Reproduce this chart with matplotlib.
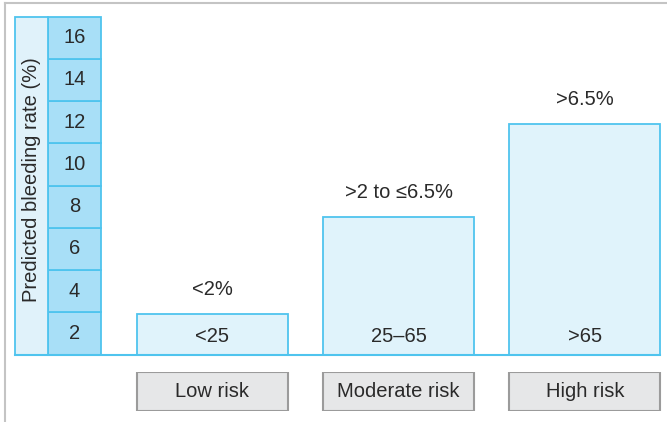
import matplotlib
matplotlib.use("Agg")
import matplotlib.pyplot as plt
from matplotlib.lines import Line2D
from matplotlib.patches import Rectangle

plt.rcParams['font.family'] = ['Liberation Sans', 'DejaVu Sans']

# ---- data ----
categories = ["Low risk", "Moderate risk", "High risk"]
bleeding_rate = [1.9, 6.5, 10.9]          # predicted bleeding rate (%) bar heights
rate_labels = ["<2%", ">2 to \u22646.5%", ">6.5%"]
score_labels = ["<25", "25\u201365", ">65"]
tick_values = [2, 4, 6, 8, 10, 12, 14, 16]
y_label = "Predicted bleeding rate (%)"

# ---- style ----
W, H = 667, 422
CYAN = "#4fc4ee"
BAR_FILL = "#e0f3fb"
CELL_FILL = "#a8dff7"
GRAY_FILL = "#e6e7e8"
GRAY_EDGE = "#9b9b9b"
TXT = "#2a2a2a"
FS = 14.5

fig = plt.figure(figsize=(W / 100, H / 100), dpi=100)

def fx(px):
    return px / W

def fy(py):
    return 1 - py / H

top_px, base_px = 16.5, 354.5
x_left_px, x_right_px = 101, 667
unit_px = 186.3
first_center_px = 212.3
xl = -(first_center_px - x_left_px) / unit_px
xr = xl + (x_right_px - x_left_px) / unit_px
bar_w = 151 / unit_px
xs = list(range(len(categories)))

# main bar axes
ax = fig.add_axes([fx(x_left_px), fy(base_px), fx(x_right_px - x_left_px),
                   (base_px - top_px) / H])
ax.set_xlim(xl, xr)
ax.set_ylim(0, 16)
ax.axis("off")
ax.bar(xs, bleeding_rate, width=bar_w, color=BAR_FILL, edgecolor=CYAN,
       linewidth=1.3, zorder=2)
for x, v, lab, sc in zip(xs, bleeding_rate, rate_labels, score_labels):
    ax.annotate(lab, xy=(x, v), xytext=(0, 18), textcoords="offset points",
                ha="center", va="center", fontsize=FS, color=TXT)
    ax.annotate(sc, xy=(x, 0), xytext=(0, 13.3), textcoords="offset points",
                ha="center", va="center", fontsize=FS, color=TXT)

# tick cell column
axc = fig.add_axes([fx(48), fy(base_px), fx(101 - 48), (base_px - top_px) / H])
axc.set_xlim(0, 1)
axc.set_ylim(0, 16)
axc.axis("off")
bottoms = [t - 2 for t in tick_values]
axc.bar([0.5] * len(tick_values), [2] * len(tick_values), width=1, bottom=bottoms,
        color=CELL_FILL, edgecolor=CYAN, linewidth=1.3, clip_on=False)
for t in tick_values:
    axc.text(0.5, t - 1, str(t), ha="center", va="center", fontsize=FS, color=TXT)

# y-label column
axl = fig.add_axes([fx(15), fy(base_px), fx(48 - 15), (base_px - top_px) / H])
axl.set_xlim(0, 1)
axl.set_ylim(0, 16)
axl.axis("off")
axl.add_patch(Rectangle((0, 0), 1, 16, facecolor="#e0f2fa", edgecolor=CYAN,
                        linewidth=1.3, clip_on=False))
axl.text(0.5, 8.3, y_label, rotation=90, ha="center", va="center",
         fontsize=FS, color=TXT)

# category boxes below
axb = fig.add_axes([fx(x_left_px), fy(411), fx(x_right_px - x_left_px), 39 / H])
axb.set_xlim(xl, xr)
axb.set_ylim(0, 1)
axb.axis("off")
axb.bar(xs, [1] * len(xs), width=bar_w, color=GRAY_FILL, edgecolor=GRAY_EDGE,
        linewidth=1.5)
for x, c in zip(xs, categories):
    axb.text(x, 0.5, c, ha="center", va="center", fontsize=FS, color=TXT)

# baseline
fig.add_artist(Line2D([fx(15), fx(660)], [fy(base_px), fy(base_px)],
                      color=CYAN, linewidth=1.5))
# outer frame
fig.add_artist(Line2D([fx(4.5), fx(667)], [fy(3), fy(3)], color="#c4c4c4", linewidth=1.5))
fig.add_artist(Line2D([fx(4.5), fx(4.5)], [fy(3), fy(422)], color="#c4c4c4", linewidth=1.5))

fig.savefig("out.png", dpi=100)
